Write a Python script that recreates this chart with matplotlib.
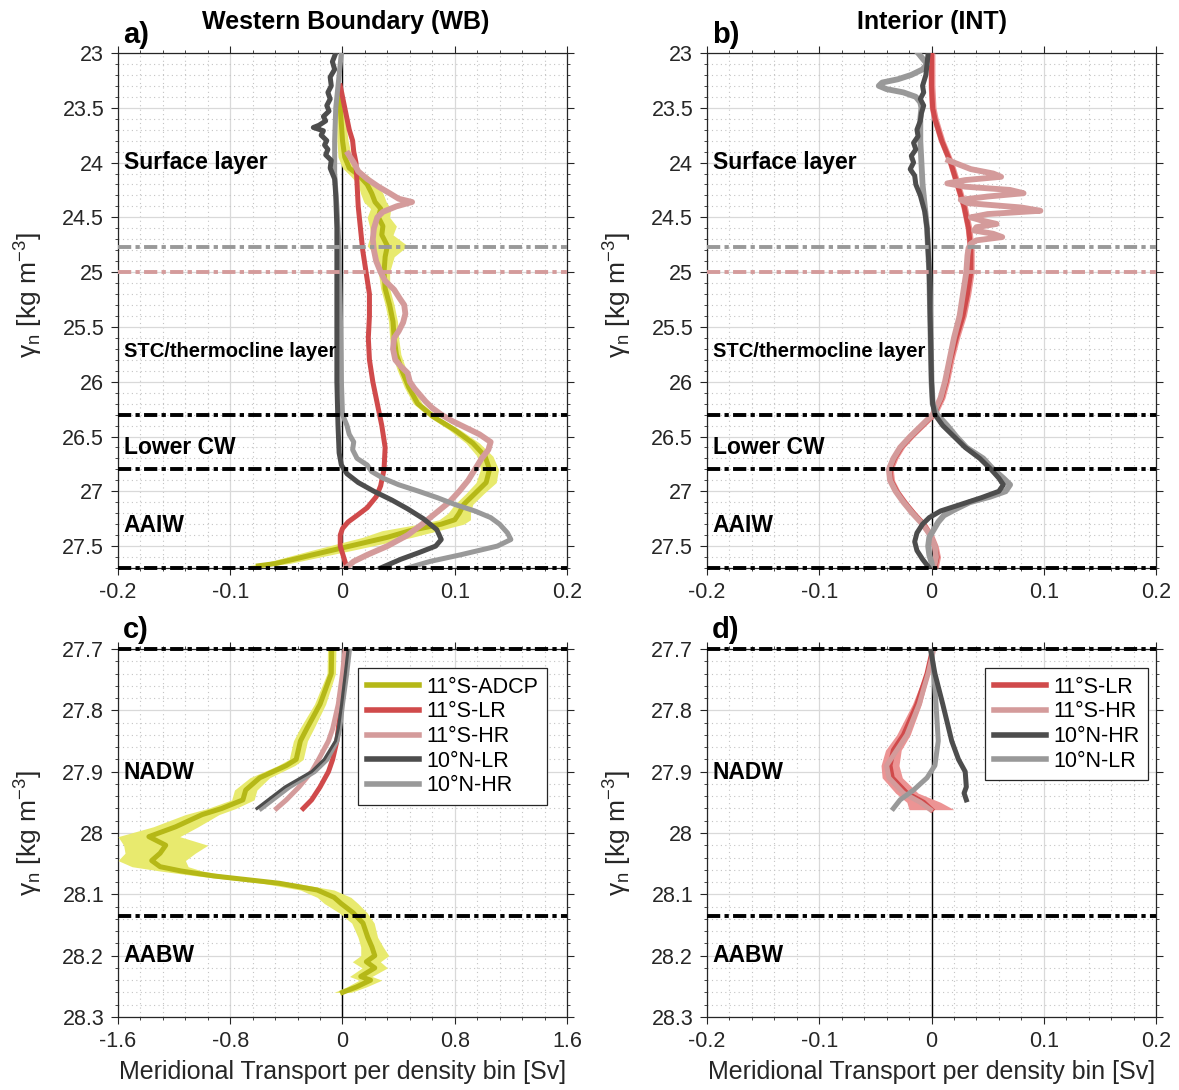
import numpy as np
import matplotlib.pyplot as plt
from matplotlib.ticker import MultipleLocator, FuncFormatter
from matplotlib.lines import Line2D
import matplotlib.transforms as mtransforms

plt.rcParams['font.family'] = ['Liberation Sans', 'DejaVu Sans']
plt.rcParams['axes.unicode_minus'] = False
plt.rcParams['mathtext.fontset'] = 'custom'
plt.rcParams['mathtext.rm'] = 'Liberation Sans'
plt.rcParams['mathtext.it'] = 'Liberation Sans:italic'

# ---------------- data ----------------
# a) Western boundary, upper layers
a_o_y = [23.35, 23.5, 23.65, 23.8, 23.95, 24.05, 24.12, 24.2, 24.28, 24.36, 24.42, 24.5, 24.58, 24.66, 24.76,
         24.86, 25.0, 25.15, 25.3, 25.45, 25.6, 25.75, 25.9, 26.05, 26.2, 26.32, 26.44, 26.56, 26.68, 26.8,
         26.92, 27.02, 27.12, 27.2, 27.26, 27.3, 27.36, 27.42, 27.48, 27.54, 27.6, 27.66, 27.68]
a_o_x = [-0.002, -0.002, -0.001, 0.000, 0.002, 0.006, 0.015, 0.022, 0.026, 0.029, 0.034, 0.032, 0.036, 0.035, 0.040,
         0.038, 0.037, 0.038, 0.042, 0.045, 0.046, 0.048, 0.053, 0.059, 0.067, 0.081, 0.100, 0.116, 0.127, 0.131,
         0.128, 0.118, 0.108, 0.104, 0.100, 0.088, 0.060, 0.040, 0.015, -0.010, -0.035, -0.060, -0.075]
a_o_err = [0.003, 0.003, 0.004, 0.005, 0.006, 0.006, 0.008, 0.008, 0.010, 0.010, 0.009, 0.010, 0.012, 0.010, 0.018,
           0.008, 0.005, 0.004, 0.004, 0.004, 0.004, 0.004, 0.004, 0.004, 0.004, 0.004, 0.005, 0.006, 0.007, 0.008,
           0.009, 0.008, 0.008, 0.010, 0.014, 0.020, 0.025, 0.022, 0.020, 0.018, 0.015, 0.012, 0.010]

a_r_y = [23.3, 23.4, 23.5, 23.6, 23.7, 23.8, 23.9, 24.0, 24.2, 24.4, 24.6, 24.8, 25.0, 25.2, 25.4, 25.6, 25.8,
         26.0, 26.2, 26.4, 26.6, 26.8, 26.95, 27.05, 27.15, 27.22, 27.28, 27.34, 27.4, 27.5, 27.6, 27.7]
a_r_x = [-0.002, 0.000, 0.002, 0.004, 0.006, 0.009, 0.010, 0.012, 0.013, 0.014, 0.016, 0.018, 0.021, 0.024, 0.024,
         0.023, 0.024, 0.027, 0.031, 0.035, 0.038, 0.037, 0.034, 0.030, 0.022, 0.013, 0.005, 0.000, -0.002, -0.002,
         0.001, 0.004]

a_p_y = [23.92, 24.0, 24.08, 24.15, 24.22, 24.28, 24.33, 24.36, 24.4, 24.45, 24.5, 24.6, 24.7, 24.8, 24.9, 25.0,
         25.08, 25.16, 25.24, 25.3, 25.38, 25.46, 25.54, 25.6, 25.7, 25.8, 25.86, 25.92, 26.0, 26.06, 26.12, 26.18,
         26.24, 26.3, 26.36, 26.42, 26.48, 26.55, 26.62, 26.7, 26.8, 26.9, 27.0, 27.1, 27.2, 27.3, 27.4, 27.5,
         27.58, 27.64, 27.7]
a_p_x = [0.005, 0.010, 0.014, 0.022, 0.032, 0.042, 0.050, 0.062, 0.048, 0.036, 0.031, 0.028, 0.027, 0.028, 0.030,
         0.034, 0.038, 0.046, 0.051, 0.055, 0.056, 0.054, 0.050, 0.046, 0.045, 0.047, 0.052, 0.058, 0.060, 0.064,
         0.069, 0.074, 0.080, 0.088, 0.098, 0.110, 0.122, 0.132, 0.130, 0.124, 0.118, 0.112, 0.104, 0.095, 0.083,
         0.071, 0.058, 0.040, 0.022, 0.010, 0.003]

a_dk_y = [23.0, 23.08, 23.15, 23.22, 23.3, 23.36, 23.42, 23.48, 23.53, 23.58, 23.62, 23.66, 23.68, 23.71, 23.75,
          23.8, 23.84, 23.88, 23.93, 23.98, 24.05, 24.15, 24.3, 24.6, 25.0, 25.5, 26.0, 26.4, 26.65, 26.76, 26.84,
          26.92, 27.0, 27.08, 27.16, 27.25, 27.35, 27.44, 27.5, 27.56, 27.62, 27.7]
a_dk_x = [-0.006, -0.009, -0.007, -0.011, -0.010, -0.013, -0.011, -0.014, -0.012, -0.017, -0.015, -0.021, -0.026,
          -0.017, -0.019, -0.014, -0.016, -0.013, -0.015, -0.010, -0.011, -0.007, -0.006, -0.005, -0.005, -0.005,
          -0.005, -0.004, -0.003, -0.001, 0.004, 0.014, 0.028, 0.044, 0.058, 0.072, 0.084, 0.088, 0.083, 0.068,
          0.052, 0.034]

a_lt_y = [23.0, 23.2, 23.5, 23.8, 24.1, 24.4, 24.8, 25.3, 26.0, 26.3, 26.4, 26.48, 26.55, 26.62, 26.7, 26.76,
          26.82, 26.88, 26.94, 27.0, 27.06, 27.12, 27.18, 27.24, 27.3, 27.38, 27.44, 27.5, 27.58, 27.64, 27.7]
a_lt_x = [-0.001, -0.003, -0.006, -0.007, -0.007, -0.005, -0.003, -0.002, -0.001, 0.000, 0.004, 0.006, 0.010,
          0.009, 0.013, 0.022, 0.026, 0.036, 0.050, 0.068, 0.085, 0.100, 0.118, 0.132, 0.140, 0.147, 0.150, 0.138,
          0.105, 0.078, 0.058]

# b) Interior, upper layers
b_r_y = [23.0, 23.3, 23.5, 23.6, 23.7, 23.8, 23.9, 24.0, 24.1, 24.2, 24.3, 24.4, 24.5, 24.6, 24.7, 24.8, 25.0,
         25.2, 25.4, 25.6, 25.8, 26.0, 26.15, 26.3, 26.4, 26.5, 26.6, 26.7, 26.8, 26.9, 27.0, 27.1, 27.2, 27.3,
         27.4, 27.5, 27.6, 27.7]
b_r_x = [0.000, 0.000, 0.001, 0.003, 0.006, 0.009, 0.013, 0.017, 0.020, 0.023, 0.026, 0.029, 0.031, 0.033, 0.034,
         0.035, 0.035, 0.032, 0.028, 0.022, 0.017, 0.013, 0.009, 0.002, -0.008, -0.018, -0.027, -0.033, -0.037,
         -0.036, -0.031, -0.024, -0.016, -0.007, -0.001, 0.003, 0.005, 0.003]

b_p_y = [23.98, 24.02, 24.06, 24.1, 24.13, 24.16, 24.19, 24.22, 24.25, 24.28, 24.31, 24.34, 24.37, 24.41, 24.44,
         24.47, 24.5, 24.53, 24.56, 24.59, 24.62, 24.65, 24.68, 24.71, 24.74, 24.78, 24.85, 25.0, 25.2, 25.4, 25.6,
         25.8, 26.0, 26.15, 26.3, 26.4, 26.5, 26.6, 26.7, 26.8, 26.9, 27.0, 27.1, 27.2, 27.3, 27.4, 27.5, 27.6, 27.7]
b_p_x = [0.015, 0.025, 0.035, 0.055, 0.062, 0.030, 0.014, 0.030, 0.070, 0.082, 0.050, 0.026, 0.032, 0.080, 0.097,
         0.050, 0.035, 0.045, 0.058, 0.040, 0.038, 0.055, 0.063, 0.040, 0.035, 0.033, 0.032, 0.031, 0.028, 0.025,
         0.020, 0.016, 0.012, 0.008, 0.001, -0.009, -0.019, -0.028, -0.034, -0.038, -0.037, -0.032, -0.025, -0.017,
         -0.008, -0.001, 0.003, 0.004, 0.002]

b_dk_y = [23.0, 23.1, 23.2, 23.3, 23.36, 23.42, 23.48, 23.55, 23.62, 23.7, 23.76, 23.82, 23.88, 23.94, 24.0, 24.06,
          24.12, 24.2, 24.3, 24.45, 24.6, 24.8, 25.0, 25.5, 26.0, 26.2, 26.3, 26.4, 26.5, 26.6, 26.7, 26.8, 26.88,
          26.94, 27.0, 27.06, 27.12, 27.18, 27.24, 27.3, 27.38, 27.46, 27.54, 27.62, 27.7]
b_dk_x = [-0.003, -0.004, -0.005, -0.008, -0.007, -0.010, -0.007, -0.009, -0.010, -0.013, -0.012, -0.016, -0.014,
          -0.018, -0.016, -0.019, -0.015, -0.014, -0.010, -0.006, -0.004, -0.003, -0.002, -0.001, 0.000, 0.001,
          0.003, 0.010, 0.020, 0.030, 0.043, 0.053, 0.060, 0.064, 0.060, 0.044, 0.026, 0.008, -0.002, -0.008,
          -0.013, -0.015, -0.013, -0.008, -0.002]

b_lt_y = [23.0, 23.05, 23.1, 23.15, 23.2, 23.24, 23.27, 23.3, 23.33, 23.36, 23.4, 23.45, 23.5, 23.6, 23.8, 24.0,
          24.2, 24.4, 24.6, 24.8, 25.0, 25.5, 26.0, 26.2, 26.3, 26.4, 26.5, 26.6, 26.7, 26.8, 26.88, 26.94, 27.0,
          27.05, 27.1, 27.16, 27.22, 27.28, 27.35, 27.42, 27.5, 27.58, 27.65, 27.7]
b_lt_x = [-0.012, -0.008, -0.004, -0.008, -0.018, -0.030, -0.044, -0.047, -0.040, -0.025, -0.014, -0.010, -0.009,
          -0.010, -0.010, -0.009, -0.008, -0.006, -0.004, -0.003, -0.002, -0.001, 0.000, 0.001, 0.005, 0.014,
          0.022, 0.031, 0.046, 0.055, 0.064, 0.070, 0.066, 0.052, 0.034, 0.022, 0.011, 0.006, 0.002, -0.002,
          -0.003, -0.002, 0.000, 0.001]

# c) Western boundary, deep layers
c_o_y = [27.700, 27.740, 27.790, 27.830, 27.850, 27.880, 27.890, 27.910, 27.930, 27.946, 27.960, 27.970, 27.990,
         28.006, 28.020, 28.033, 28.045, 28.055, 28.062, 28.070, 28.082, 28.093, 28.105, 28.115, 28.130, 28.147,
         28.170, 28.186, 28.200, 28.210, 28.220, 28.234, 28.240, 28.251, 28.260]
c_o_x = [-0.077, -0.080, -0.160, -0.255, -0.300, -0.330, -0.400, -0.590, -0.690, -0.710, -0.860, -1.000, -1.190,
         -1.380, -1.260, -1.300, -1.360, -1.300, -1.150, -0.920, -0.450, -0.180, -0.060, -0.010, 0.075, 0.146,
         0.180, 0.210, 0.230, 0.170, 0.230, 0.130, 0.200, 0.100, 0.000]
c_o_err = [0.03, 0.03, 0.04, 0.05, 0.05, 0.05, 0.06, 0.07, 0.08, 0.08, 0.10, 0.12, 0.16, 0.22, 0.30, 0.25, 0.24,
           0.20, 0.15, 0.12, 0.12, 0.12, 0.12, 0.12, 0.10, 0.08, 0.07, 0.08, 0.10, 0.10, 0.09, 0.08, 0.08, 0.07, 0.06]

c_y = [27.70, 27.74, 27.79, 27.83, 27.85, 27.88, 27.90, 27.925, 27.946, 27.96]
c_r_x = [0.03, 0.02, -0.01, -0.03, -0.04, -0.07, -0.10, -0.16, -0.22, -0.28]
c_p_x = [0.018, 0.0, -0.03, -0.07, -0.10, -0.17, -0.22, -0.31, -0.40, -0.47]
c_dk_x = [0.04, 0.02, -0.006, -0.03, -0.05, -0.13, -0.22, -0.41, -0.53, -0.61]
c_lt_x = [0.05, 0.03, 0.0, -0.02, -0.04, -0.11, -0.20, -0.38, -0.50, -0.58]

# d) Interior, deep layers
d_s_y = [27.70, 27.74, 27.79, 27.84, 27.865, 27.89, 27.91, 27.935, 27.95, 27.962]
d_r_x = [0.001, -0.004, -0.013, -0.025, -0.034, -0.037, -0.035, -0.022, -0.007, 0.000]
d_r_err = [0.001, 0.002, 0.004, 0.006, 0.007, 0.008, 0.009, 0.010, 0.015, 0.020]
d_p_x = [0.002, -0.003, -0.011, -0.022, -0.031, -0.040, -0.038, -0.025, -0.010, -0.001]
d_dk_y = [27.70, 27.74, 27.79, 27.85, 27.88, 27.90, 27.925, 27.935, 27.946]
d_dk_x = [-0.001, 0.003, 0.010, 0.018, 0.024, 0.030, 0.031, 0.029, 0.031]
d_lt_y = [27.70, 27.74, 27.79, 27.85, 27.89, 27.91, 27.93, 27.946, 27.96]
d_lt_x = [0.000, 0.002, 0.004, 0.006, 0.003, -0.004, -0.016, -0.028, -0.034]

upper_bounds = [26.3, 26.8, 27.7]
deep_bounds = [27.7, 28.135]
upper_layers = [('Surface layer', 24.0, 16.5), ('STC/thermocline layer', 25.72, 14.5),
                ('Lower CW', 26.6, 16.5), ('AAIW', 27.31, 16.5)]
deep_layers = [('NADW', 27.902, 16.5), ('AABW', 28.2, 16.5)]

# ---------------- style ----------------
OLIVE = '#b5b817'
OLIVE_BAND = '#e8ea6e'
RED = '#d04a4b'
RED_BAND = '#ec9494'
PINK = '#d49b9b'
DARK = '#4d4d4d'
LIGHT = '#999999'
AXC = '#262626'
DD = (3.4, 1.1, 1.1, 1.1)

fig = plt.figure(figsize=(11.79, 10.9), dpi=100)
ax_a = fig.add_axes([0.1001, 0.4789, 0.3808, 0.4725])
ax_b = fig.add_axes([0.5997, 0.4789, 0.3808, 0.4725])
ax_c = fig.add_axes([0.1001, 0.0670, 0.3808, 0.3376])
ax_d = fig.add_axes([0.5997, 0.0670, 0.3808, 0.3376])

fmt = FuncFormatter(lambda v, p: '%g' % round(v, 3))


def style(ax, xlim, xmaj, xmin, ylim, ymaj, ymin):
    ax.set_xlim(xlim)
    ax.set_ylim(ylim)
    ax.xaxis.set_major_locator(MultipleLocator(xmaj))
    ax.xaxis.set_minor_locator(MultipleLocator(xmin))
    ax.yaxis.set_major_locator(MultipleLocator(ymaj))
    ax.yaxis.set_minor_locator(MultipleLocator(ymin))
    ax.xaxis.set_major_formatter(fmt)
    ax.yaxis.set_major_formatter(fmt)
    ax.grid(which='major', color='#d9d9d9', lw=0.9)
    ax.grid(which='minor', color='#c4c4c4', lw=0.8, ls=(0, (1, 3)))
    ax.set_axisbelow(True)
    ax.tick_params(which='both', direction='out', colors=AXC, top=True, right=True, labelsize=15.5)
    ax.tick_params(which='major', length=5, pad=5)
    ax.tick_params(which='minor', length=2.5)
    for s in ax.spines.values():
        s.set_color(AXC)
        s.set_linewidth(0.9)
    ax.axvline(0, color='k', lw=1, zorder=2)


style(ax_a, (-0.2, 0.2), 0.1, 0.02, (27.7, 23), 0.5, 0.1)
style(ax_b, (-0.2, 0.2), 0.1, 0.02, (27.7, 23), 0.5, 0.1)
style(ax_c, (-1.6, 1.6), 0.8, 0.16, (28.3, 27.7), 0.1, 0.02)
style(ax_d, (-0.2, 0.2), 0.1, 0.02, (28.3, 27.7), 0.1, 0.02)

LW = 3.6
YLAB = r'γ$_\mathrm{n}$ [kg m$^{-3}$]'

# a)
ax_a.fill_betweenx(a_o_y, np.array(a_o_x) - np.array(a_o_err), np.array(a_o_x) + np.array(a_o_err),
                   color=OLIVE_BAND, lw=0, zorder=3)
ax_a.plot(a_o_x, a_o_y, color=OLIVE, lw=LW, zorder=4)
ax_a.plot(a_r_x, a_r_y, color=RED, lw=LW, zorder=4)
ax_a.plot(a_p_x, a_p_y, color=PINK, lw=4.2, zorder=4)
ax_a.plot(a_lt_x, a_lt_y, color=LIGHT, lw=LW, zorder=5)
ax_a.plot(a_dk_x, a_dk_y, color=DARK, lw=LW, zorder=5)

# b)
ax_b.fill_betweenx(b_r_y, np.array(b_r_x) - 0.003, np.array(b_r_x) + 0.003, color=RED_BAND, lw=0, zorder=3)
ax_b.plot(b_r_x, b_r_y, color=RED, lw=LW, zorder=4)
ax_b.plot(b_p_x, b_p_y, color=PINK, lw=4.2, zorder=4)
ax_b.plot(b_lt_x, b_lt_y, color=LIGHT, lw=4.2, zorder=5)
ax_b.plot(b_dk_x, b_dk_y, color=DARK, lw=LW, zorder=5)

for ax in (ax_a, ax_b):
    ax.axhline(24.77, color=LIGHT, lw=2.8, dashes=DD, zorder=6)
    ax.axhline(25.0, color=PINK, lw=2.8, dashes=DD, zorder=6)
    for yb in upper_bounds:
        ax.axhline(yb, color='k', lw=2.8, dashes=DD, zorder=6, clip_on=False)
    tr = mtransforms.blended_transform_factory(ax.transAxes, ax.transData)
    for name, yv, fs in upper_layers:
        ax.text(0.013, yv, name, transform=tr, fontsize=fs, fontweight='bold', va='center', ha='left', zorder=7)
    ax.set_ylabel(YLAB, fontsize=19, color=AXC)
    ax.yaxis.set_label_coords(-0.163, 0.53)

# c)
ax_c.fill_betweenx(c_o_y, np.array(c_o_x) - np.array(c_o_err), np.array(c_o_x) + np.array(c_o_err),
                   color=OLIVE_BAND, lw=0, zorder=3)
ax_c.plot(c_o_x, c_o_y, color=OLIVE, lw=LW, zorder=4)
ax_c.plot(c_r_x, c_y, color=RED, lw=LW, zorder=4)
ax_c.plot(c_p_x, c_y, color=PINK, lw=LW, zorder=4)
ax_c.plot(c_lt_x, c_y, color=LIGHT, lw=LW, zorder=5)
ax_c.plot(c_dk_x, c_y, color=DARK, lw=2.2, zorder=5)

# d)
ax_d.fill_betweenx(d_s_y, np.array(d_r_x) - np.array(d_r_err), np.array(d_r_x) + np.array(d_r_err),
                   color=RED_BAND, lw=0, zorder=3)
ax_d.plot(d_r_x, d_s_y, color=RED, lw=LW, zorder=4)
ax_d.plot(d_p_x, d_s_y, color=PINK, lw=LW, zorder=4)
ax_d.plot(d_lt_x, d_lt_y, color=LIGHT, lw=LW, zorder=5)
ax_d.plot(d_dk_x, d_dk_y, color=DARK, lw=LW, zorder=5)

for ax in (ax_c, ax_d):
    for yb in deep_bounds:
        ax.axhline(yb, color='k', lw=2.8, dashes=DD, zorder=6, clip_on=False)
    tr = mtransforms.blended_transform_factory(ax.transAxes, ax.transData)
    for name, yv, fs in deep_layers:
        ax.text(0.013, yv, name, transform=tr, fontsize=fs, fontweight='bold', va='center', ha='left', zorder=7)
    ax.set_ylabel(YLAB, fontsize=19, color=AXC)
    ax.yaxis.set_label_coords(-0.163, 0.5)
    ax.set_xlabel('Meridional Transport per density bin [Sv]', fontsize=18, color=AXC, labelpad=6)

# legends built from proxy lines
leg_c_labels = ['11°S-ADCP', '11°S-LR', '11°S-HR', '10°N-LR', '10°N-HR']
leg_c_colors = [OLIVE, RED, PINK, DARK, LIGHT]
leg_d_labels = ['11°S-LR', '11°S-HR', '10°N-HR', '10°N-LR']
leg_d_colors = [RED, PINK, DARK, LIGHT]
for ax, labs, cols, xa in ((ax_c, leg_c_labels, leg_c_colors, 0.955), (ax_d, leg_d_labels, leg_d_colors, 0.982)):
    hs = [Line2D([], [], color=c, lw=4) for c in cols]
    lg = ax.legend(hs, labs, loc='upper right', bbox_to_anchor=(xa, 0.948), fontsize=15.5, fancybox=False,
                   framealpha=1, edgecolor=AXC, handlelength=2.4, handletextpad=0.35, labelspacing=0.17,
                   borderpad=0.4, borderaxespad=0)
    lg.get_frame().set_linewidth(0.9)
    lg.set_zorder(10)

# titles and panel letters
fig.text(346 / 1179, 1 - 22 / 1090, 'Western Boundary (WB)', ha='center', va='center', fontsize=18, fontweight='bold')
fig.text(932 / 1179, 1 - 22 / 1090, 'Interior (INT)', ha='center', va='center', fontsize=18, fontweight='bold')
for lab, x0, y0 in (('a)', 123, 35), ('b)', 712, 35), ('c)', 123, 630), ('d)', 712, 630)):
    fig.text(x0 / 1179, 1 - y0 / 1090, lab, ha='left', va='center', fontsize=21, fontweight='bold')

fig.savefig('out.png', dpi=100)
